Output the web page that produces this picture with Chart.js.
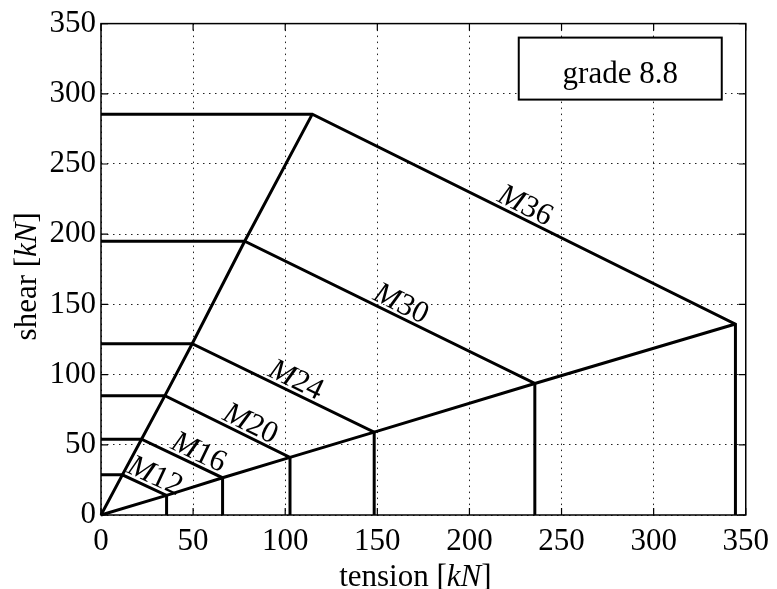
<!DOCTYPE html>
<html><head><meta charset="utf-8">
<script src="https://cdn.jsdelivr.net/npm/chart.js@4.4.1/dist/chart.umd.min.js"></script>
<style>html,body{margin:0;padding:0;background:#fff;}#wrap{width:777px;height:589px;position:relative;}</style>
</head><body><div id="wrap"><canvas id="c" width="777" height="589"></canvas></div>
<script>
// ---- data ----
const bolts = ['M12', 'M16', 'M20', 'M24', 'M30', 'M36'];
const shearMax = [28.6, 54, 85, 122, 195, 285.5];        // horizontal plateau (shear resistance)
const cornerTension = [11.6, 22, 34.7, 49.5, 78, 114.7];  // tension at end of plateau
const tensionMax = [35.6, 66, 102.6, 148.3, 235.5, 344.4];// tension resistance (vertical line)
const cornerShear = [14, 26.5, 41, 59, 93.7, 136];        // shear at top of vertical line
const xTicks = [0, 50, 100, 150, 200, 250, 300, 350];
const yTicks = [0, 50, 100, 150, 200, 250, 300, 350];
const xTitle = ['tension [', 'kN', ']'];
const yTitle = ['shear [', 'kN', ']'];
const legendText = 'grade 8.8';

// ---- style / layout ----
const SERIF = '"Liberation Serif", "Times New Roman", serif';
const LABEL_T = [0.62, 0.64, 0.64, 0.54, 0.52, 0.49];
const LABEL_OFF = 4;
const LABEL_SIZE = 31;
const TICK = 7;

const datasets = bolts.map((b, i) => ({
  label: b,
  data: [
    {x: 0, y: shearMax[i]},
    {x: cornerTension[i], y: shearMax[i]},
    {x: tensionMax[i], y: cornerShear[i]},
    {x: tensionMax[i], y: 0}
  ]
}));
datasets.push({label: 'ray1', data: [{x: 0, y: 0}].concat(bolts.map((b, i) => ({x: cornerTension[i], y: shearMax[i]})))});
datasets.push({label: 'ray2', data: [{x: 0, y: 0}].concat(bolts.map((b, i) => ({x: tensionMax[i], y: cornerShear[i]})))});
datasets.forEach(d => Object.assign(d, {showLine: true, borderColor: '#000', borderWidth: 3, pointRadius: 0, fill: false, tension: 0, clip: 4}));

function drawMixed(ctx, parts, cx, cy, size) {
  const fonts = parts.map((p, k) => (k === 1 ? 'italic ' : '') + size + 'px ' + SERIF);
  const ws = parts.map((p, k) => { ctx.font = fonts[k]; return ctx.measureText(p).width; });
  let sx = cx - ws.reduce((a, b) => a + b, 0) / 2;
  ctx.textAlign = 'left'; ctx.textBaseline = 'alphabetic';
  parts.forEach((p, k) => { ctx.font = fonts[k]; ctx.fillText(p, sx, cy); sx += ws[k]; });
}

const decor = {
  id: 'decor',
  afterDatasetsDraw(chart) {
    const {ctx, chartArea: a, scales: {x, y}} = chart;
    ctx.save();
    ctx.fillStyle = '#000'; ctx.strokeStyle = '#000';
    // labels along the sloped segments
    bolts.forEach((name, i) => {
      const x1 = x.getPixelForValue(cornerTension[i]), y1 = y.getPixelForValue(shearMax[i]);
      const x2 = x.getPixelForValue(tensionMax[i]), y2 = y.getPixelForValue(cornerShear[i]);
      const ang = Math.atan2(y2 - y1, x2 - x1);
      const t = LABEL_T[i];
      ctx.save();
      ctx.translate(x1 + (x2 - x1) * t, y1 + (y2 - y1) * t);
      ctx.rotate(ang);
      const m = name.slice(0, 1), num = name.slice(1);
      const fi = 'italic ' + LABEL_SIZE + 'px ' + SERIF, fr = LABEL_SIZE + 'px ' + SERIF;
      ctx.font = fi; const wm = ctx.measureText(m).width;
      ctx.font = fr; const wn = ctx.measureText(num).width;
      const sx = -(wm + wn) / 2;
      ctx.textAlign = 'left'; ctx.textBaseline = 'alphabetic';
      ctx.font = fi; ctx.fillText(m, sx, -LABEL_OFF);
      ctx.font = fr; ctx.fillText(num, sx + wm, -LABEL_OFF);
      ctx.restore();
    });
    // frame
    ctx.lineWidth = 1.5;
    ctx.strokeRect(a.left, a.top, a.right - a.left, a.bottom - a.top);
    // inward ticks on all sides
    ctx.lineWidth = 1.2;
    ctx.beginPath();
    x.ticks.forEach(tk => {
      const p = x.getPixelForValue(tk.value);
      ctx.moveTo(p, a.bottom); ctx.lineTo(p, a.bottom - TICK);
      ctx.moveTo(p, a.top); ctx.lineTo(p, a.top + TICK);
    });
    y.ticks.forEach(tk => {
      const p = y.getPixelForValue(tk.value);
      ctx.moveTo(a.left, p); ctx.lineTo(a.left + TICK, p);
      ctx.moveTo(a.right, p); ctx.lineTo(a.right - TICK, p);
    });
    ctx.stroke();
    // legend box
    const bw = 203, bh = 62;
    const bx = a.right - 24 - bw, by = a.top + 14;
    ctx.fillStyle = '#fff';
    ctx.fillRect(bx, by, bw, bh);
    ctx.lineWidth = 2;
    ctx.strokeRect(bx, by, bw, bh);
    ctx.fillStyle = '#000';
    ctx.font = '31px ' + SERIF; ctx.textAlign = 'center'; ctx.textBaseline = 'alphabetic';
    ctx.fillText(legendText, bx + bw / 2, by + 45);
    // axis titles
    drawMixed(ctx, xTitle, (a.left + a.right) / 2 - 8, 586, 31);
    ctx.save();
    ctx.translate(36, (a.top + a.bottom) / 2 + 7);
    ctx.rotate(-Math.PI / 2);
    drawMixed(ctx, yTitle, 0, 0, 31);
    ctx.restore();
    ctx.restore();
  }
};

const tickFont = {family: SERIF, size: 31};
new Chart(document.getElementById('c'), {
  type: 'scatter',
  data: {datasets},
  options: {
    responsive: false,
    animation: false,
    devicePixelRatio: 1,
    layout: {padding: {left: 0, right: 31, top: 17, bottom: 0}},
    plugins: {legend: {display: false}, tooltip: {enabled: false}},
    scales: {
      x: {
        type: 'linear', min: 0, max: 350,
        afterBuildTicks: s => { s.ticks = xTicks.map(v => ({value: v})); },
        afterFit: s => { s.height = 74; },
        ticks: {font: tickFont, color: '#000', padding: 8, maxRotation: 0, autoSkip: false},
        grid: {color: '#222', lineWidth: 1, drawTicks: false},
        border: {display: false, dash: [1.5, 4.5]}
      },
      y: {
        type: 'linear', min: 0, max: 350,
        afterBuildTicks: s => { s.ticks = yTicks.map(v => ({value: v})); },
        afterFit: s => { s.width = 101; },
        ticks: {font: tickFont, color: '#000', padding: 5, autoSkip: false},
        grid: {color: '#222', lineWidth: 1, drawTicks: false},
        border: {display: false, dash: [1.5, 4.5]}
      }
    }
  },
  plugins: [decor]
});
</script></body></html>
